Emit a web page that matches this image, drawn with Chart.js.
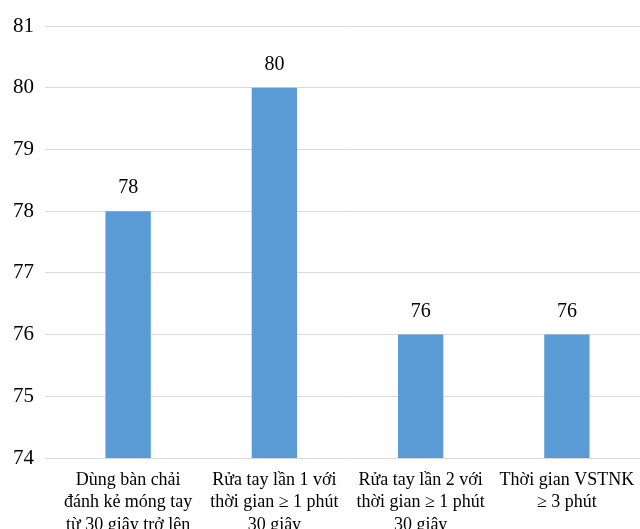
<!DOCTYPE html>
<html>
<head>
<meta charset="utf-8">
<script src="https://cdn.jsdelivr.net/npm/chart.js@4/dist/chart.umd.min.js"></script>
<style>
  html, body { margin: 0; padding: 0; background: #fff; }
  #wrap { width: 640px; height: 529px; }
</style>
</head>
<body>
<div id="wrap"><canvas id="c" width="640" height="529"></canvas></div>
<script>
// Data
const categories = [
  ['Dùng bàn chải', 'đánh kẻ móng tay', 'từ 30 giây trở lên'],
  ['Rửa tay lần 1 với', 'thời gian ≥ 1 phút', '30 giây'],
  ['Rửa tay lần 2 với', 'thời gian ≥ 1 phút', '30 giây'],
  ['Thời gian VSTNK', '≥ 3 phút'],
];
const values = [78, 80, 76, 76];
const yMin = 74;
const yMax = 81;

const FONT = '"Liberation Serif", "Times New Roman", serif';

// value labels above each bar
const barLabels = {
  id: 'barLabels',
  afterDatasetsDraw(chart) {
    const ctx = chart.ctx;
    const meta = chart.getDatasetMeta(0);
    ctx.save();
    ctx.font = '20px ' + FONT;
    ctx.fillStyle = '#000';
    ctx.textAlign = 'center';
    ctx.textBaseline = 'alphabetic';
    meta.data.forEach((bar, i) => {
      ctx.fillText(String(values[i]), bar.x, bar.y - 18);
    });
    ctx.restore();
  }
};

new Chart(document.getElementById('c').getContext('2d'), {
  type: 'bar',
  data: {
    labels: categories,
    datasets: [{
      data: values,
      backgroundColor: '#5B9BD5',
      borderWidth: 0,
      barPercentage: 0.62,
      categoryPercentage: 0.5,
    }]
  },
  options: {
    responsive: false,
    animation: false,
    layout: { padding: { top: 26, right: 0, left: 0, bottom: 0 } },
    plugins: { legend: { display: false }, tooltip: { enabled: false } },
    scales: {
      x: {
        grid: { display: false, drawTicks: false },
        border: { display: false },
        ticks: {
          color: '#000',
          font: { family: FONT, size: 18, lineHeight: 1.25 },
          padding: 11,
          maxRotation: 0,
          autoSkip: false,
        },
        afterFit(scale) {
          scale.height = 71;
          // let the last label run to the canvas edge, like the original
          scale.paddingLeft = 0;
          scale.paddingRight = 0;
        }
      },
      y: {
        min: yMin,
        max: yMax,
        grid: { color: '#D9D9D9', lineWidth: 1, tickLength: 10, drawTicks: true },
        border: { display: false },
        ticks: {
          stepSize: 1,
          color: '#000',
          font: { family: FONT, size: 21 },
          padding: 11,
        },
        afterFit(scale) { scale.width = 55; }
      }
    }
  },
  plugins: [barLabels]
});
</script>
</body>
</html>
